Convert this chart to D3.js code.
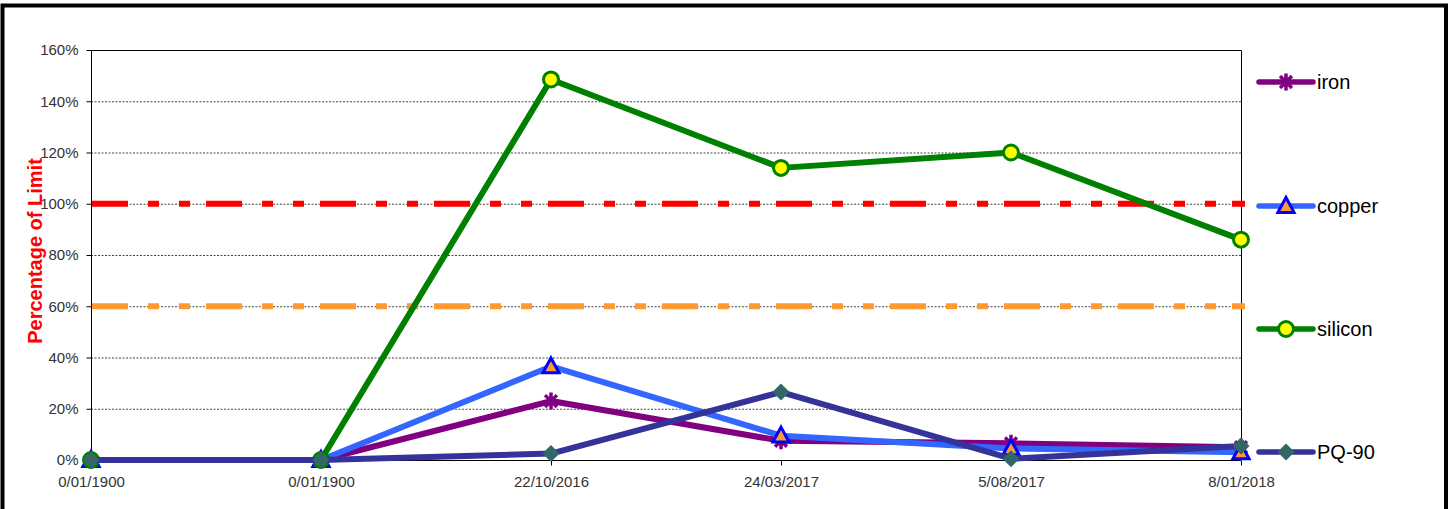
<!DOCTYPE html>
<html>
<head>
<meta charset="utf-8">
<script src="https://cdn.jsdelivr.net/npm/d3@7"></script>
<style>
  body { margin: 0; background: #fff; }
  svg { display: block; font-family: Arial, "Liberation Sans", sans-serif; }
  .tick text { fill: #333; font-size: 15px; }
</style>
</head>
<body>
<svg width="1453" height="509"></svg>
<script>
//data, values in percent of limit
let categories = ["0/01/1900", "0/01/1900", "22/10/2016", "24/03/2017", "5/08/2017", "8/01/2018"];
let iron = [0, 0, 23, 7.5, 6.5, 5];
let copper = [0, 0, 36.5, 9.5, 4.5, 3];
let silicon = [0, 0, 148.5, 114, 120, 86];
let pq90 = [0, 0, 2.5, 26.5, 0.5, 5.5];
let yTicks = [0, 20, 40, 60, 80, 100, 120, 140, 160];
let limits = [100, 60];

let svg = d3.select("svg");
let plot = { left: 91, top: 50, right: 1241, bottom: 460 };

//outer frame
svg.append("rect")
  .attr("x", 2.5)
  .attr("y", 5.5)
  .attr("width", 1443.5)
  .attr("height", 600)
  .attr("fill", "none")
  .attr("stroke", "#000")
  .attr("stroke-width", 4);

//scales, point scale over index because first two labels repeat
let xScale = d3.scalePoint()
  .domain(d3.range(categories.length))
  .range([plot.left, plot.right]);
let yScale = d3.scaleLinear()
  .domain([0, 160])
  .range([plot.bottom, plot.top]);

//gridlines
svg.append("g")
  .selectAll("line")
  .data(yTicks.filter(function(d) { return d > 0 && d < 160; }))
  .enter()
  .append("line")
  .attr("x1", plot.left)
  .attr("x2", plot.right)
  .attr("y1", function(d) { return yScale(d) + 0.5; })
  .attr("y2", function(d) { return yScale(d) + 0.5; })
  .attr("stroke", "#444")
  .attr("stroke-width", 1)
  .attr("stroke-dasharray", "2,1.5");

//plot border top and right
svg.append("path")
  .attr("d", "M" + plot.left + "," + (plot.top + 0.5) + "H" + (plot.right + 0.5) + "V" + plot.bottom)
  .attr("fill", "none")
  .attr("stroke", "#000")
  .attr("stroke-width", 1);

//limit lines
let limitColors = ["#FF0000", "#FF9933"];
svg.append("g")
  .selectAll("line")
  .data(limits)
  .enter()
  .append("line")
  .attr("x1", plot.left + 1)
  .attr("x2", plot.right + 4)
  .attr("y1", function(d) { return yScale(d); })
  .attr("y2", function(d) { return yScale(d); })
  .attr("stroke", function(d, i) { return limitColors[i]; })
  .attr("stroke-width", 6)
  .attr("stroke-dasharray", "36,20,11,20,11,16");

//axes
let yAxis = svg.append("g")
  .attr("transform", "translate(" + (plot.left + 0.5) + ",0)")
  .call(d3.axisLeft(yScale).tickValues(yTicks).tickSize(5).tickPadding(8).tickFormat(function(d) { return d + "%"; }));
yAxis.select(".domain").attr("d", "M0," + plot.top + "V" + plot.bottom);

let xAxis = svg.append("g")
  .attr("transform", "translate(0," + (plot.bottom + 0.5) + ")")
  .call(d3.axisBottom(xScale).tickSize(5).tickPadding(11).tickFormat(function(i) { return categories[i]; }));
xAxis.select(".domain").attr("d", "M" + plot.left + ",0H" + plot.right);

//y axis title
svg.append("text")
  .attr("transform", "translate(42,251) rotate(-90)")
  .attr("text-anchor", "middle")
  .attr("fill", "#FF0000")
  .attr("font-weight", "bold")
  .attr("font-size", "20px")
  .text("Percentage of Limit");

//marker paths, size in px
function markerPath(type, s) {
  if (type == "star") {
    let a = s * 0.7;
    return "M0," + (-s) + "V" + s +
      "M" + (-a) + "," + (-a) + "L" + a + "," + a +
      "M" + (-a) + "," + a + "L" + a + "," + (-a);
  }
  if (type == "triangle") {
    return "M0," + (-s) + "L" + (s * 0.95) + "," + (s * 0.75) + "L" + (-s * 0.95) + "," + (s * 0.75) + "Z";
  }
  if (type == "diamond") {
    return "M0," + (-s) + "L" + s + ",0L0," + s + "L" + (-s) + ",0Z";
  }
  return d3.symbol().type(d3.symbolCircle).size(Math.PI * s * s)();
}

let series = [
  { name: "iron", values: iron, color: "#800080", marker: "star", size: 8.5, fill: "none", stroke: "#800080", sw: 3.5, legendY: 82 },
  { name: "copper", values: copper, color: "#3366FF", marker: "triangle", size: 8.5, fill: "#FF9933", stroke: "#0000FF", sw: 3, legendY: 206 },
  { name: "silicon", values: silicon, color: "#008000", marker: "circle", size: 7.5, fill: "#FFFF00", stroke: "#008000", sw: 3, legendY: 329 },
  { name: "PQ-90", values: pq90, color: "#333399", marker: "diamond", size: 8.5, fill: "#336666", stroke: "none", sw: 0, legendY: 452 }
];

let line = d3.line()
  .x(function(d, i) { return xScale(i); })
  .y(function(d) { return yScale(d); });

//SERIES
series.forEach(function(s) {
  let g = svg.append("g");
  g.append("path")
    .attr("d", line(s.values))
    .attr("fill", "none")
    .attr("stroke", s.color)
    .attr("stroke-width", 6)
    .attr("stroke-linejoin", "round");
  g.selectAll(".marker")
    .data(s.values)
    .enter()
    .append("path")
    .attr("class", "marker")
    .attr("transform", function(d, i) { return "translate(" + xScale(i) + "," + yScale(d) + ")"; })
    .attr("d", markerPath(s.marker, s.size))
    .attr("fill", s.fill)
    .attr("stroke", s.stroke)
    .attr("stroke-width", s.sw);
});

//LEGEND
let legend = svg.append("g")
  .selectAll("g")
  .data(series)
  .enter()
  .append("g")
  .attr("transform", function(d) { return "translate(1257," + d.legendY + ")"; });
legend.append("line")
  .attr("x1", 2)
  .attr("x2", 56)
  .attr("stroke", function(d) { return d.color; })
  .attr("stroke-width", 5.5)
  .attr("stroke-linecap", "round");
legend.append("path")
  .attr("transform", "translate(29,0)")
  .attr("d", function(d) { return markerPath(d.marker, d.size); })
  .attr("fill", function(d) { return d.fill; })
  .attr("stroke", function(d) { return d.stroke; })
  .attr("stroke-width", function(d) { return d.sw; });
legend.append("text")
  .attr("x", 60)
  .attr("dy", "0.35em")
  .attr("font-size", "20px")
  .attr("fill", "#000")
  .text(function(d) { return d.name; });
</script>
</body>
</html>
